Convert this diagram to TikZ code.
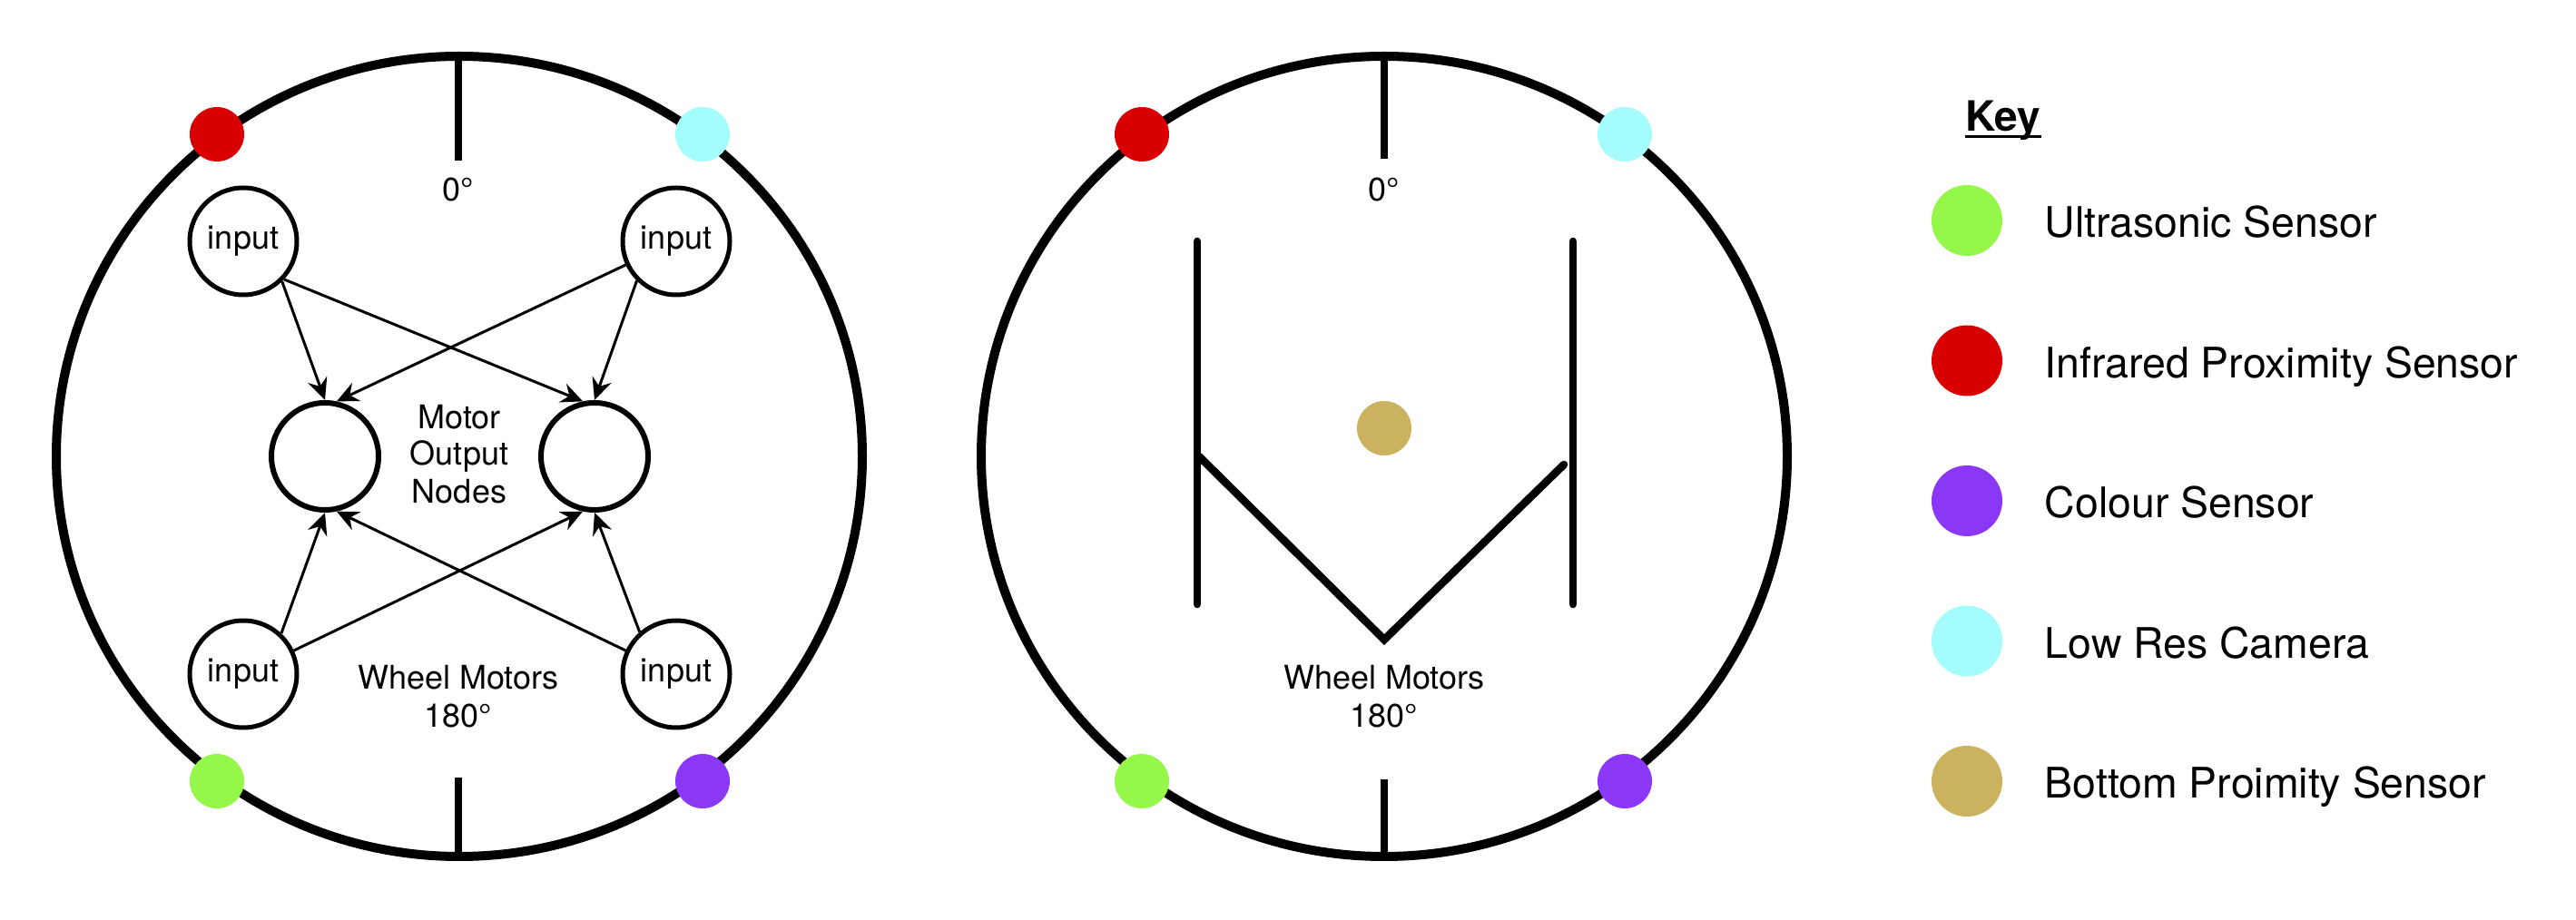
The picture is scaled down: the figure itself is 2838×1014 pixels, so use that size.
\documentclass[tikz,border=0pt]{standalone}
\usepackage{fontspec}
\setmainfont{TeX Gyre Heros}
\usetikzlibrary{arrows.meta}
\definecolor{cgreen}{HTML}{96F74B}
\definecolor{cred}{HTML}{D80000}
\definecolor{cpurple}{HTML}{8A38F5}
\definecolor{ccyan}{HTML}{A4FCFC}
\definecolor{cgold}{HTML}{CAB25E}
\begin{document}
\begin{tikzpicture}[x=0.25pt,y=-0.25pt,
  rim/.style={line width=2.5pt},
  tickline/.style={line width=2pt},
  inp/.style={circle,draw,line width=1.25pt,minimum size=29.5pt,inner sep=0pt,font=\fontsize{9}{11}\selectfont},
  outp/.style={circle,draw,line width=1.5pt,minimum size=29.5pt,inner sep=0pt},
  conn/.style={line width=0.75pt,-{Stealth[length=6pt,width=5.5pt,inset=2pt]}},
  lbl/.style={anchor=base,font=\fontsize{9}{11}\selectfont,inner sep=0pt},
  keylbl/.style={anchor=base west,font=\fontsize{11.6}{14}\selectfont,inner sep=0pt},
  sdot/.style={circle,inner sep=0pt,minimum size=15pt},
  kdot/.style={circle,inner sep=0pt,minimum size=19.5pt},
  hline/.style={line width=2.15pt}
]
\useasboundingbox (0,0) rectangle (2838,1014);

% ---------- left diagram ----------
\draw[rim] (506,503) ellipse [x radius=111pt, y radius=110.25pt];
\coordinate (lta) at (505,62); \coordinate (ltb) at (505,177);
\coordinate (lba) at (505,944); \coordinate (lbb) at (505,857);
\draw[tickline] (lta) -- (ltb);
\draw[tickline] (lba) -- (lbb);

\node[sdot,fill=cred] (lred) at (239,148) {};
\node[sdot,fill=ccyan] (lcyan) at (774,148) {};
\node[sdot,fill=cgreen] (lgreen) at (239,861) {};
\node[sdot,fill=cpurple] (lpurple) at (774,861) {};

\node[inp] (tl) at (268,266) {input};
\node[inp] (tr) at (745,266) {input};
\node[inp] (bl) at (268,743) {input};
\node[inp] (br) at (745,743) {input};
\node[outp] (lo) at (358,503) {};
\node[outp] (ro) at (655,503) {};

\draw[conn] (tl.-46) -- (lo.north);
\draw[conn] (tl.-43) -- (ro.102);
\draw[conn] (tr.-135) -- (ro.north);
\draw[conn] (tr.-155) -- (lo.78);
\draw[conn] (bl.47) -- (lo.south);
\draw[conn] (bl.25) -- (ro.-102);
\draw[conn] (br.131) -- (ro.south);
\draw[conn] (br.155) -- (lo.-78);

\node[lbl] (lzero) at (505,222) {0°};
\node[lbl] (lm1) at (506,473) {Motor};
\node[lbl] (lm2) at (506,513) {Output};
\node[lbl] (lm3) at (506,555) {Nodes};
\node[lbl] (lw1) at (505,760) {Wheel Motors};
\node[lbl] (lw2) at (505,802) {180°};

% ---------- right diagram ----------
\draw[rim] (1525,503) ellipse [x radius=111pt, y radius=110.25pt];
\coordinate (rta) at (1525,62); \coordinate (rtb) at (1525,175);
\coordinate (rba) at (1525,944); \coordinate (rbb) at (1525,859);
\draw[tickline] (rta) -- (rtb);
\draw[tickline] (rba) -- (rbb);

\node[sdot,fill=cred] (rred) at (1258,148) {};
\node[sdot,fill=ccyan] (rcyan) at (1790,148) {};
\node[sdot,fill=cgreen] (rgreen) at (1258,861) {};
\node[sdot,fill=cpurple] (rpurple) at (1790,861) {};
\node[sdot,fill=cgold] (rgold) at (1525,472) {};

\coordinate (hl1) at (1319,266); \coordinate (hl2) at (1319,666);
\coordinate (hr1) at (1733,266); \coordinate (hr2) at (1733,666);
\coordinate (va) at (1321,503); \coordinate (vb) at (1525,705); \coordinate (vc) at (1723,512);
\draw[hline,line cap=round] (hl1) -- (hl2);
\draw[hline,line cap=round] (hr1) -- (hr2);
\draw[hline,line cap=round] (va) -- (vb) -- (vc);

\node[lbl] (rzero) at (1525,222) {0°};
\node[lbl] (rw1) at (1525,760) {Wheel Motors};
\node[lbl] (rw2) at (1525,802) {180°};

% ---------- key ----------
\node[anchor=base west,inner sep=0pt,font=\fontsize{11.5}{14}\selectfont\bfseries] (key) at (2165,145) {Key};
\draw[line width=0.75pt] ([yshift=-1.5pt]key.base west) -- ([yshift=-1.5pt]key.base east);

\node[kdot,fill=cgreen] (k1) at (2167,243) {};
\node[kdot,fill=cred] (k2) at (2167,397.5) {};
\node[kdot,fill=cpurple] (k3) at (2167,552) {};
\node[kdot,fill=ccyan] (k4) at (2167,706.5) {};
\node[kdot,fill=cgold] (k5) at (2167,861) {};

\node[keylbl] (t1) at (2252,262) {Ultrasonic Sensor};
\node[keylbl] (t2) at (2252,416.5) {Infrared Proximity Sensor};
\node[keylbl] (t3) at (2252,571) {Colour Sensor};
\node[keylbl] (t4) at (2252,725.5) {Low Res Camera};
\node[keylbl] (t5) at (2252,880) {Bottom Proimity Sensor};
\end{tikzpicture}
\end{document}
